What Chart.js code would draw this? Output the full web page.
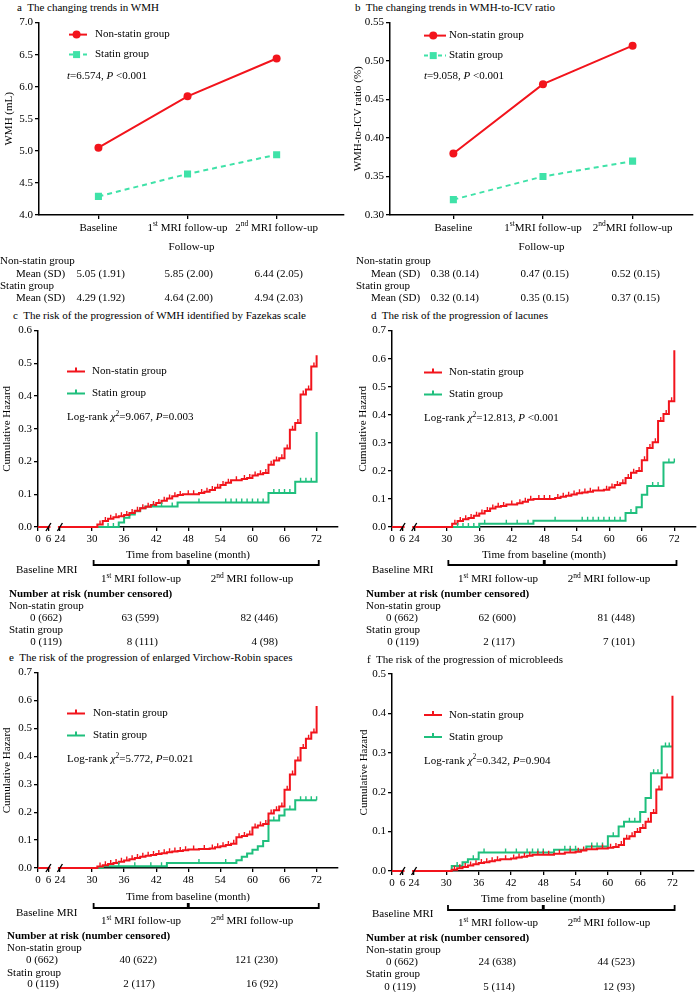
<!DOCTYPE html>
<html>
<head>
<meta charset="utf-8">
<script src="https://cdn.jsdelivr.net/npm/chart.js@4.4.1/dist/chart.umd.min.js"></script>
<style>
  html, body { margin: 0; padding: 0; background: #fff; }
  body { position: relative; width: 698px; height: 992px; overflow: hidden;
         font-family: "Liberation Serif", "Times New Roman", serif; font-size: 11px; color: #000; }
  canvas { position: absolute; }
  .t { position: absolute; white-space: nowrap; line-height: 13px; transform: translateY(-50%); }
  .t.c { transform: translate(-50%, -50%); }
  .t.r { transform: translate(-100%, -50%); }
  sup { font-size: 7.5px; line-height: 0; vertical-align: 4px; }
</style>
</head>
<body>
<script>
/* --- data --- */
// a, b: mean values at the three MRI visits
const trendLabelsA = ['Baseline', '1^{st} MRI follow-up', '2^{nd} MRI follow-up'];
const trendLabelsB = ['Baseline', '1^{st}MRI follow-up', '2^{nd}MRI follow-up'];
const wmhNonStatin = [5.05, 5.85, 6.44];
const wmhStatin = [4.29, 4.64, 4.94];
const ratioNonStatin = [0.38, 0.47, 0.52];
const ratioStatin = [0.32, 0.35, 0.37];
const wmhMeanNon = ['5.05 (1.91)', '5.85 (2.00)', '6.44 (2.05)'];
const wmhMeanStatin = ['4.29 (1.92)', '4.64 (2.00)', '4.94 (2.03)'];
const ratioMeanNon = ['0.38 (0.14)', '0.47 (0.15)', '0.52 (0.15)'];
const ratioMeanStatin = ['0.32 (0.14)', '0.35 (0.15)', '0.37 (0.15)'];

// c-f: cumulative hazard steps [month, hazard after the step] and censor times
const kmTicks = [0, 6, 24, 30, 36, 42, 48, 54, 60, 66, 72];
const fazekasNon = [[0,0],[31,0.008],[32,0.018],[33,0.025],[34,0.03],[35,0.033],[36,0.037],[37,0.043],[38,0.05],[39,0.057],[40,0.062],[41,0.067],[42,0.073],[43,0.08],[44,0.087],[45,0.094],[46,0.098],[47,0.1],[50,0.104],[51,0.108],[52,0.113],[53,0.12],[54,0.128],[55,0.135],[56,0.143],[58,0.147],[59,0.15],[60,0.157],[61,0.161],[62,0.165],[63,0.19],[64,0.203],[65,0.21],[66,0.24],[67,0.297],[68,0.318],[69,0.405],[70,0.42],[71,0.49],[72,0.525]];
const fazekasNonCens = [31.5,32.5,33.5,34.5,35.5,36.5,37.5,38.5,39.5,40.5,41.5,42.5,43.5,44.5,45.5,46.5,48,49,50.5,51.5,52.5,53.5,54.5,55.5,57,58.5,59.5,60.5,61.5,62.5,63.5,64.5,65.5,66.5,67.5,68.5,69.5,70.5,71.5];
const fazekasStatin = [[0,0],[35,0.014],[36,0.028],[37,0.038],[38,0.048],[39,0.057],[40,0.063],[46,0.075],[63,0.104],[68,0.138],[72,0.29]];
const fazekasStatinCens = [33,34,41.5,43,45,50,55,56,57,58,59,60,61,62,64,65,66,67,69,70,71];

const lacunesNon = [[0,0],[31,0.012],[32,0.021],[33,0.028],[34,0.032],[35,0.04],[36,0.048],[37,0.057],[38,0.066],[39,0.072],[40,0.075],[41,0.08],[43,0.085],[44,0.09],[45,0.097],[46,0.1],[50,0.103],[51,0.108],[52,0.111],[53,0.116],[54,0.12],[55,0.123],[56,0.126],[57,0.13],[59,0.133],[60,0.141],[61,0.15],[62,0.156],[63,0.175],[64,0.193],[65,0.2],[66,0.238],[67,0.282],[68,0.302],[69,0.378],[70,0.403],[71,0.448],[72,0.63]];
const lacunesNonCens = [31.5,32.5,33.5,34.5,35.5,36.5,37.5,38.5,39.5,40.5,42,43.5,44.5,45.5,47,48,49,50.5,51.5,52.5,53.5,54.5,55.5,56.5,58,59.5,60.5,61.5,62.5,63.5,64.5,65.5,66.5,67.5,68.5,69.5,70.5,71.5];
const lacunesStatin = [[0,0],[36,0.012],[46,0.022],[63,0.05],[65,0.07],[66,0.115],[67,0.146],[70,0.23],[72,0.23]];
const lacunesStatinCens = [32,33,34,35,37,41,43,45,50,55,56,57,58,59,60,61,62,64,68,69,71,72];

const evrsNon = [[0,0],[31,0.005],[32,0.01],[33,0.014],[34,0.018],[35,0.022],[36,0.027],[37,0.031],[38,0.036],[39,0.04],[40,0.044],[41,0.047],[42,0.05],[43,0.053],[44,0.056],[45,0.059],[46,0.061],[47,0.064],[48,0.066],[50,0.068],[52,0.07],[53,0.074],[54,0.078],[55,0.082],[56,0.087],[57,0.11],[58,0.115],[59,0.12],[60,0.145],[61,0.152],[62,0.158],[63,0.195],[64,0.207],[65,0.22],[66,0.28],[67,0.335],[68,0.385],[69,0.43],[70,0.463],[71,0.485],[72,0.58]];
const evrsNonCens = [31.5,32.5,33.5,34.5,35.5,36.5,37.5,38.5,39.5,40.5,41.5,42.5,43.5,44.5,45.5,46.5,47.5,49,51,52.5,53.5,54.5,55.5,56.5,57.5,58.5,59.5,60.5,61.5,62.5,63.5,64.5,65.5,66.5,67.5,68.5,69.5,70.5,71.5];
const evrsStatin = [[0,0],[32,0.006],[44,0.018],[57,0.028],[58,0.04],[59,0.052],[60,0.065],[61,0.078],[62,0.097],[63,0.17],[65,0.188],[66,0.21],[68,0.243],[72,0.243]];
const evrsStatinCens = [35,38,41,43,50,55,64,67,69,70,71,72];

const microNon = [[0,0],[31,0.003],[32,0.007],[33,0.01],[34,0.014],[35,0.017],[36,0.02],[37,0.022],[38,0.025],[39,0.027],[40,0.03],[42,0.032],[43,0.034],[44,0.036],[45,0.039],[46,0.041],[50,0.044],[52,0.047],[54,0.049],[55,0.052],[56,0.055],[58,0.057],[60,0.059],[61,0.061],[62,0.066],[63,0.082],[64,0.088],[65,0.099],[66,0.109],[67,0.125],[68,0.147],[69,0.207],[70,0.237],[72,0.445]];
const microNonCens = [31.5,32.5,33.5,34.5,35.5,36.5,37.5,38.5,39.5,41,42.5,43.5,44.5,45.5,47,48,49,51,53,54.5,55.5,57,59,60.5,61.5,62.5,63.5,64.5,65.5,66.5,67.5,68.5,69.5,71];
const microStatin = [[0,0],[31,0.013],[33,0.022],[34,0.03],[36,0.047],[50,0.054],[56,0.062],[60,0.088],[62,0.113],[63,0.125],[66,0.15],[67,0.185],[68,0.248],[70,0.316],[72,0.316]];
const microStatinCens = [32,35,37,41,43,45,46,47,48,52,53,54,57,58,59,61,64,65,68.5,69.3,70.7,71.4];

const riskFazekasNon = ['0 (662)', '63 (599)', '82 (446)'];
const riskFazekasStatin = ['0 (119)', '8 (111)', '4 (98)'];
const riskLacunesNon = ['0 (662)', '62 (600)', '81 (448)'];
const riskLacunesStatin = ['0 (119)', '2 (117)', '7 (101)'];
const riskEvrsNon = ['0 (662)', '40 (622)', '121 (230)'];
const riskEvrsStatin = ['0 (119)', '2 (117)', '16 (92)'];
const riskMicroNon = ['0 (662)', '24 (638)', '44 (523)'];
const riskMicroStatin = ['0 (119)', '5 (114)', '12 (93)'];

const bracketSpans = [[30.3, 47.9], [48.1, 72.4]];

/* --- look --- */
const FONT = '"Liberation Serif", "Times New Roman", serif';
const RED = '#f2141c', MINT = '#3fe2a8', GREEN = '#1fbf7d';
Chart.defaults.font.family = FONT;
Chart.defaults.font.size = 11;
Chart.defaults.color = '#000';

// markup: ^{..} superscript, _{..} italic
function parseRich(s) {
    return s.split(/(\^\{[^}]*\}|_\{[^}]*\})/).filter(Boolean).map(p =>
        p.startsWith('^{') ? [p.slice(2, -1), 's'] : p.startsWith('_{') ? [p.slice(2, -1), 'i'] : [p, '']);
}
function richHTML(s) {
    return s.replace(/\^\{([^}]*)\}/g, '<sup>$1</sup>').replace(/_\{([^}]*)\}/g, '<i>$1</i>');
}
function drawRich(ctx, s, x, y, align) {
    const parts = parseRich(s);
    const fonts = parts.map(([, st]) => st === 's' ? `7.5px ${FONT}` : st === 'i' ? `italic 11px ${FONT}` : `11px ${FONT}`);
    ctx.save();
    ctx.fillStyle = '#000';
    ctx.textBaseline = 'middle';
    ctx.textAlign = 'left';
    let w = 0;
    parts.forEach(([t], i) => { ctx.font = fonts[i]; w += ctx.measureText(t).width; });
    let cx = align === 'center' ? x - w / 2 : x;
    parts.forEach(([t, st], i) => {
        ctx.font = fonts[i];
        ctx.fillText(t, cx, st === 's' ? y - 4 : y);
        cx += ctx.measureText(t).width;
    });
    ctx.restore();
}

function put(html, x, y, align) {
    const d = document.createElement('div');
    d.className = 't' + (align ? ' ' + align : '');
    d.innerHTML = richHTML(html);
    d.style.left = x + 'px';
    d.style.top = y + 'px';
    document.body.appendChild(d);
}
function addCanvas(left, top, w, h) {
    const c = document.createElement('canvas');
    c.width = w; c.height = h;
    c.style.left = left + 'px'; c.style.top = top + 'px';
    c.style.width = w + 'px'; c.style.height = h + 'px';
    document.body.appendChild(c);
    return c;
}

// broken time axis: 0 and 6 squeezed in front of 24
function pos(m) {
    if (m >= 24) return m;
    if (m <= 6) return 19.9 + m * (21.85 - 19.9) / 6;
    return 21.85 + (m - 6) * (23.85 - 21.85) / 18;
}
function stepValue(steps, t) {
    let v = 0;
    steps.forEach(([s, h]) => { if (s <= t) v = h; });
    return v;
}

function axisStyle(extra) {
    return Object.assign({
        grid: { display: true, drawOnChartArea: false, drawTicks: true, tickLength: 4, color: '#000', lineWidth: 1.3 },
        border: { display: true, color: '#000', width: 1.5 },
        ticks: { color: '#000', font: { family: FONT, size: 11 }, padding: 2 }
    }, extra);
}

/* --- a, b: trend lines --- */
function makeTrend(c) {
    const extras = {
        id: 'trendExtras',
        afterDraw(chart) {
            const { ctx, chartArea: a, scales: { x } } = chart;
            c.labels.forEach((s, i) => drawRich(ctx, s, x.getPixelForValue(i), a.bottom + 13, 'center'));
            const L = c.legend;
            [[RED, 'circle', [], 'Non-statin group'], [MINT, 'rect', [4, 3], 'Statin group']].forEach(([col, shape, dash, label], k) => {
                const ly = a.top + L.y + k * 20, lx = a.left + L.x;
                ctx.save();
                ctx.strokeStyle = col; ctx.fillStyle = col; ctx.lineWidth = 2;
                ctx.setLineDash(dash);
                ctx.beginPath(); ctx.moveTo(lx, ly); ctx.lineTo(lx + L.len, ly); ctx.stroke();
                ctx.setLineDash([]);
                const mx = lx + L.len * 0.42;
                if (shape === 'circle') { ctx.beginPath(); ctx.arc(mx, ly, 4, 0, Math.PI * 2); ctx.fill(); }
                else ctx.fillRect(mx - 3.5, ly - 3.5, 7, 7);
                ctx.restore();
                drawRich(ctx, label, a.left + L.tx, ly, 'left');
            });
            drawRich(ctx, c.stat, a.left + L.sx, a.top + L.sy, 'left');
        }
    };
    const g = c.geo;
    return new Chart(addCanvas(c.left, c.top, 349, 240), {
        type: 'line',
        data: { datasets: [
            { data: c.non.map((v, i) => ({ x: i, y: v })), borderColor: RED, backgroundColor: RED, borderWidth: 2,
              pointStyle: 'circle', pointRadius: 4, pointBorderWidth: 0 },
            { data: c.statin.map((v, i) => ({ x: i, y: v })), borderColor: MINT, backgroundColor: MINT, borderWidth: 2,
              borderDash: [5, 4], pointStyle: 'rect', pointRadius: 5, pointBorderWidth: 0 }
        ] },
        options: {
            responsive: false, animation: false, events: [],
            layout: { padding: { left: 0, top: g.top, right: g.right, bottom: 0 } },
            plugins: { legend: { display: false }, tooltip: { enabled: false } },
            scales: {
                x: axisStyle({
                    type: 'linear', min: c.xMin, max: c.xMax,
                    afterBuildTicks: s => { s.ticks = c.labels.map((_, i) => ({ value: i })); },
                    afterFit: s => { s.height = g.xh; },
                    ticks: { display: false },
                    title: { display: true, text: 'Follow-up', color: '#000', font: { family: FONT, size: 11 }, padding: { top: 0, bottom: 0 } }
                }),
                y: axisStyle({
                    min: c.yMin, max: c.yMax,
                    afterFit: s => { s.width = g.yw; },
                    ticks: { stepSize: c.yStep, color: '#000', font: { family: FONT, size: 11 }, padding: 2, callback: v => v.toFixed(c.dec) },
                    title: { display: true, text: c.yTitle, color: '#000', font: { family: FONT, size: 11 }, padding: { top: g.ytp, bottom: 0 } }
                })
            }
        },
        plugins: [extras]
    });
}

/* --- c-f: cumulative hazard --- */
function makeKM(c) {
    const extras = {
        id: 'kmExtras',
        afterDatasetsDraw(chart) {
            const { ctx, scales: { x, y } } = chart;
            ctx.save();
            ctx.lineWidth = 1.4;
            [[c.statin, c.statinCens, GREEN], [c.non, c.nonCens, RED]].forEach(([steps, cens, col]) => {
                ctx.strokeStyle = col;
                ctx.beginPath();
                cens.forEach(t => {
                    const px = x.getPixelForValue(pos(t)), py = y.getPixelForValue(stepValue(steps, t));
                    ctx.moveTo(px, py); ctx.lineTo(px, py - 4);
                });
                ctx.stroke();
            });
            ctx.restore();
        },
        afterDraw(chart) {
            const { ctx, chartArea: a, scales: { x } } = chart;
            ctx.save();
            // axis break
            const b1 = x.getPixelForValue(pos(6)), b2 = x.getPixelForValue(pos(24));
            ctx.fillStyle = '#fff';
            ctx.fillRect(b1 + 2, a.bottom - 3, b2 - b1 - 4, 6);
            ctx.strokeStyle = '#000'; ctx.lineWidth = 1.4;
            ctx.beginPath();
            [b1, b2].forEach(px => { ctx.moveTo(px - 2.5, a.bottom + 4); ctx.lineTo(px + 2.5, a.bottom - 4); });
            ctx.stroke();
            // follow-up brackets
            const by = a.bottom + c.bracketY;
            ctx.lineWidth = 1.8;
            ctx.beginPath();
            bracketSpans.forEach(([s, e]) => {
                const p1 = x.getPixelForValue(pos(s)), p2 = x.getPixelForValue(pos(e));
                ctx.moveTo(p1, by - 5); ctx.lineTo(p1, by); ctx.lineTo(p2, by); ctx.lineTo(p2, by - 5);
            });
            ctx.stroke();
            // legend
            const L = c.legend;
            [[RED, 'Non-statin group'], [GREEN, 'Statin group']].forEach(([col, label], k) => {
                const ly = a.top + L.y + k * 22, lx = a.left + L.x;
                ctx.strokeStyle = col; ctx.lineWidth = 2;
                ctx.beginPath();
                ctx.moveTo(lx, ly); ctx.lineTo(lx + 18, ly);
                ctx.moveTo(lx + 9, ly); ctx.lineTo(lx + 9, ly - 4);
                ctx.stroke();
                drawRich(ctx, label, a.left + L.tx, ly, 'left');
            });
            drawRich(ctx, c.stat, a.left + L.x, a.top + L.y + 46, 'left');
            ctx.restore();
        }
    };
    const g = c.geo;
    const line = (steps, col) => ({
        data: steps.map(([t, h]) => ({ x: pos(t), y: h })),
        borderColor: col, borderWidth: 2, stepped: 'before', pointRadius: 0, fill: false, clip: 4
    });
    return new Chart(addCanvas(c.left, c.top, 349, 250), {
        type: 'line',
        data: { datasets: [line(c.non, RED), line(c.statin, GREEN)] },
        options: {
            responsive: false, animation: false, events: [],
            layout: { padding: { left: 0, top: g.top, right: g.right, bottom: 0 } },
            plugins: { legend: { display: false }, tooltip: { enabled: false } },
            scales: {
                x: axisStyle({
                    type: 'linear', min: pos(0), max: 76,
                    afterBuildTicks: s => { s.ticks = kmTicks.map(m => ({ value: pos(m) })); },
                    afterFit: s => { s.height = g.xh; },
                    ticks: { autoSkip: false, maxRotation: 0, color: '#000', font: { family: FONT, size: 11 }, padding: 2,
                             callback: (v, i) => String(kmTicks[i]) },
                    title: { display: true, text: 'Time from baseline (month)', color: '#000', font: { family: FONT, size: 11 },
                             padding: { top: 0, bottom: g.tpb } }
                }),
                y: axisStyle({
                    min: 0, max: c.yMax,
                    afterFit: s => { s.width = g.yw; },
                    ticks: { stepSize: 0.1, color: '#000', font: { family: FONT, size: 11 }, padding: 2, callback: v => v.toFixed(1) },
                    title: { display: true, text: 'Cumulative Hazard', color: '#000', font: { family: FONT, size: 11 },
                             padding: { top: g.ytp, bottom: 0 } }
                })
            }
        },
        plugins: [extras]
    });
}

/* --- build --- */
makeTrend({ left: 0, top: 14, non: wmhNonStatin, statin: wmhStatin, labels: trendLabelsA,
    yMin: 4, yMax: 7, yStep: 0.5, dec: 1, xMin: -0.667, xMax: 2.756, yTitle: 'WMH (mL)',
    stat: '_{t}=6.574, _{P} <0.001',
    geo: { yw: 39, top: 6, right: 2, xh: 39, ytp: 3 },
    legend: { x: 30, y: 12, len: 18, tx: 56, sx: 28, sy: 54 } });
makeTrend({ left: 349, top: 14, non: ratioNonStatin, statin: ratioStatin, labels: trendLabelsB,
    yMin: 0.3, yMax: 0.55, yStep: 0.05, dec: 2, xMin: -0.707, xMax: 2.674, yTitle: 'WMH-to-ICV ratio (%)',
    stat: '_{t}=9.058, _{P} <0.001',
    geo: { yw: 41, top: 5, right: 2, xh: 39, ytp: 3 },
    legend: { x: 34, y: 13, len: 22, tx: 59, sx: 34, sy: 54 } });

makeKM({ left: 0, top: 322, yMax: 0.6, non: fazekasNon, nonCens: fazekasNonCens, statin: fazekasStatin, statinCens: fazekasStatinCens,
    stat: 'Log-rank _{χ}^{2}=9.067, _{P}=0.003', bracketY: 38,
    geo: { yw: 38, top: 8, right: 11, xh: 45, tpb: 10.4, ytp: 1 }, legend: { x: 29, y: 41, tx: 54 } });
makeKM({ left: 349, top: 322, yMax: 0.7, non: lacunesNon, nonCens: lacunesNonCens, statin: lacunesStatin, statinCens: lacunesStatinCens,
    stat: 'Log-rank _{χ}^{2}=12.813, _{P} <0.001', bracketY: 38,
    geo: { yw: 43, top: 7, right: 2, xh: 45, tpb: 10.4, ytp: 8 }, legend: { x: 32, y: 42, tx: 57 } });
makeKM({ left: 0, top: 664, yMax: 0.7, non: evrsNon, nonCens: evrsNonCens, statin: evrsStatin, statinCens: evrsStatinCens,
    stat: 'Log-rank _{χ}^{2}=5.772, _{P}=0.021', bracketY: 40,
    geo: { yw: 38, top: 8, right: 11, xh: 46, tpb: 10.4, ytp: 1 }, legend: { x: 29, y: 41, tx: 55 } });
makeKM({ left: 349, top: 664, yMax: 0.5, non: microNon, nonCens: microNonCens, statin: microStatin, statinCens: microStatinCens,
    stat: 'Log-rank _{χ}^{2}=0.342, _{P}=0.904', bracketY: 39,
    geo: { yw: 43, top: 10, right: 4, xh: 43, tpb: 8.4, ytp: 9 }, legend: { x: 32, y: 41, tx: 57 } });

// panel titles
put('a&nbsp; The changing trends in WMH', 17, 7);
put('b&nbsp; The changing trends in WMH-to-ICV ratio', 355, 7);
put('c&nbsp; The risk of the progression of WMH identified by Fazekas scale', 13, 315);
put('d&nbsp; The risk of the progression of lacunes', 371, 315);
put('e&nbsp; The risk of the progression of enlarged Virchow-Robin spaces', 9, 657);
put('f&nbsp; The risk of the progression of microbleeds', 367, 659);

// mean (SD) tables under a and b
function meanTable(x0, xm, rights, non, statin) {
    put('Non-statin group', x0, 260);
    put('Mean (SD)', xm, 273);
    non.forEach((s, i) => put(s, rights[i], 273, 'r'));
    put('Statin group', x0, 285);
    put('Mean (SD)', xm, 297);
    statin.forEach((s, i) => put(s, rights[i], 297, 'r'));
}
meanTable(0, 16, [125, 213, 303], wmhMeanNon, wmhMeanStatin);
meanTable(356, 371, [479, 569, 660], ratioMeanNon, ratioMeanStatin);

// number at risk tables under c-f
function riskTable(t) {
    put('Baseline MRI', t.bx, t.by);
    put('1^{st} MRI follow-up', t.f1, t.fy, 'c');
    put('2^{nd} MRI follow-up', t.f2, t.fy, 'c');
    put('<b>Number at risk (number censored)</b>', t.x, t.ny);
    put('Non-statin group', t.x, t.ny + 12);
    t.non.forEach((s, i) => put(s, t.r1[i], t.y1, 'r'));
    put('Statin group', t.x, t.sy);
    t.statin.forEach((s, i) => put(s, t.r2[i], t.y2, 'r'));
}
riskTable({ bx: 16, by: 569, f1: 141, f2: 252, fy: 578, x: 9, ny: 593, y1: 617, sy: 629, y2: 641,
    r1: [62, 159, 278], r2: [62, 158, 278], non: riskFazekasNon, statin: riskFazekasStatin });
riskTable({ bx: 372, by: 569, f1: 498, f2: 609, fy: 578, x: 366, ny: 593, y1: 617, sy: 629, y2: 641,
    r1: [418, 516, 635], r2: [419, 515, 635], non: riskLacunesNon, statin: riskLacunesStatin });
riskTable({ bx: 16, by: 912, f1: 141, f2: 252, fy: 920, x: 7, ny: 935, y1: 959, sy: 972, y2: 983,
    r1: [58, 157, 278], r2: [59, 155, 278], non: riskEvrsNon, statin: riskEvrsStatin });
riskTable({ bx: 372, by: 913, f1: 498, f2: 609, fy: 922, x: 366, ny: 937, y1: 961, sy: 973, y2: 986,
    r1: [418, 516, 635], r2: [416, 515, 635], non: riskMicroNon, statin: riskMicroStatin });
</script>
</body>
</html>
